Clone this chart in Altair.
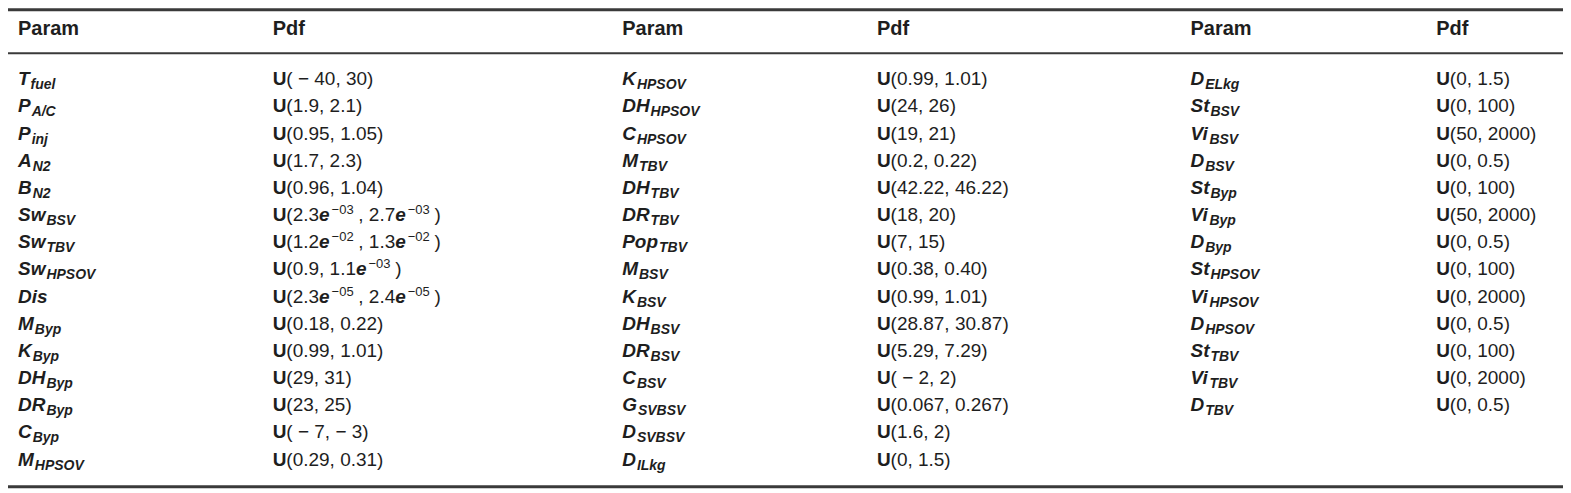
import re
import altair as alt
import pandas as pd

header_param = "Param"
header_pdf = "Pdf"

params_1 = ["T_fuel", "P_A/C", "P_inj", "A_N2", "B_N2", "Sw_BSV", "Sw_TBV", "Sw_HPSOV",
            "Dis", "M_Byp", "K_Byp", "DH_Byp", "DR_Byp", "C_Byp", "M_HPSOV"]
pdfs_1 = ["U(−40, 30)", "U(1.9, 2.1)", "U(0.95, 1.05)", "U(1.7, 2.3)", "U(0.96, 1.04)",
          "U(2.3e^−03, 2.7e^−03)", "U(1.2e^−02, 1.3e^−02)", "U(0.9, 1.1e^−03)",
          "U(2.3e^−05, 2.4e^−05)", "U(0.18, 0.22)", "U(0.99, 1.01)", "U(29, 31)",
          "U(23, 25)", "U(−7, −3)", "U(0.29, 0.31)"]

params_2 = ["K_HPSOV", "DH_HPSOV", "C_HPSOV", "M_TBV", "DH_TBV", "DR_TBV", "Pop_TBV",
            "M_BSV", "K_BSV", "DH_BSV", "DR_BSV", "C_BSV", "G_SVBSV", "D_SVBSV", "D_ILkg"]
pdfs_2 = ["U(0.99, 1.01)", "U(24, 26)", "U(19, 21)", "U(0.2, 0.22)", "U(42.22, 46.22)",
          "U(18, 20)", "U(7, 15)", "U(0.38, 0.40)", "U(0.99, 1.01)", "U(28.87, 30.87)",
          "U(5.29, 7.29)", "U(−2, 2)", "U(0.067, 0.267)", "U(1.6, 2)", "U(0, 1.5)"]

params_3 = ["D_ELkg", "St_BSV", "Vi_BSV", "D_BSV", "St_Byp", "Vi_Byp", "D_Byp",
            "St_HPSOV", "Vi_HPSOV", "D_HPSOV", "St_TBV", "Vi_TBV", "D_TBV"]
pdfs_3 = ["U(0, 1.5)", "U(0, 100)", "U(50, 2000)", "U(0, 0.5)", "U(0, 100)", "U(50, 2000)",
          "U(0, 0.5)", "U(0, 100)", "U(0, 2000)", "U(0, 0.5)", "U(0, 100)", "U(0, 2000)",
          "U(0, 0.5)"]

# ---------------- layout ----------------
W, H = 1557, 485
PARAM_X = [10, 615, 1184]
PDF_X = [265, 870, 1430]
Y0, DY = 77.0, 27.2          # chart-y of first baseline, row pitch
def row_of(page_y):
    return (page_y - 8 - Y0) / DY
HEADER_ROW = row_of(35)
RULES = [(row_of(9.5), 3.0), (row_of(53), 2.0), (row_of(487), 3.0)]

FONT = "Liberation Sans"
INK = "#1e1e1e"
BASE, SUB, SUP, HEAD = 19, 14, 14, 20

REG_W = {**{d: 0.556 for d in "0123456789"}, ".": 0.278, ",": 0.278, " ": 0.278,
         "(": 0.333, ")": 0.333, "−": 0.584, "-": 0.333}
BOLD_W = {"T": 0.611, "P": 0.667, "A": 0.722, "B": 0.722, "S": 0.667, "w": 0.778,
          "D": 0.722, "i": 0.278, "s": 0.556, "M": 0.833, "K": 0.722, "H": 0.722,
          "R": 0.722, "C": 0.722, "o": 0.611, "p": 0.611, "G": 0.778, "t": 0.333,
          "V": 0.667, "U": 0.722, "e": 0.556}

def tw(s, table, size):
    return sum(table.get(c, 0.556) for c in s) * size

def math_space(s):
    # binary-minus spacing as typeset in the reference: "( − 40", ", − 3"
    return s.replace("(−", "( − ").replace(", −", ", − ")

segs = []
def add(text, x, row, style):
    segs.append({"text": text, "x": x, "row": row, "style": style})

for g, (plist, dlist) in enumerate([(params_1, pdfs_1), (params_2, pdfs_2), (params_3, pdfs_3)]):
    add(header_param, PARAM_X[g], HEADER_ROW, "head")
    add(header_pdf, PDF_X[g], HEADER_ROW, "head")
    for i, (p, d) in enumerate(zip(plist, dlist)):
        main, _, sub = p.partition("_")
        add(main, PARAM_X[g], i, "bi")
        if sub:
            add(sub, PARAM_X[g] + tw(main, BOLD_W, BASE) + 1, i, "sub")
        x = PDF_X[g]
        add("U", x, i, "bold")
        x += tw("U", BOLD_W, BASE)
        for tok in re.split(r"(e\^[−-]?\d+)", d[1:]):
            if not tok:
                continue
            if tok.startswith("e^"):
                add("e", x, i, "bi")
                x += tw("e", BOLD_W, BASE) + 2
                add(tok[2:], x, i, "sup")
                x += tw(tok[2:], REG_W, SUP) + 3
            else:
                tok = math_space(tok)
                add(tok, x, i, "reg")
                x += tw(tok, REG_W, BASE)

seg_df = pd.DataFrame(segs)
rule_df = pd.DataFrame({"row": [r for r, _ in RULES], "sw": [s for _, s in RULES]})

xscale = alt.Scale(domain=[0, W], range=[0, W], nice=False, zero=False)
yscale = alt.Scale(domain=[-Y0 / DY, (H - Y0) / DY], range=[0, H], nice=False, zero=False)

def text_layer(style, size, weight="normal", fstyle="normal", dy=0):
    return alt.Chart(seg_df).transform_filter(alt.datum.style == style).mark_text(
        align="left", baseline="alphabetic", font=FONT, fontSize=size,
        fontWeight=weight, fontStyle=fstyle, color=INK, dy=dy
    ).encode(
        x=alt.X("x:Q", scale=xscale, axis=None),
        y=alt.Y("row:Q", scale=yscale, axis=None),
        text="text:N",
    )

rules = alt.Chart(rule_df).mark_rule(color="#3a3a3a").encode(
    x=alt.value(0), x2=alt.value(W),
    y=alt.Y("row:Q", scale=yscale, axis=None),
    strokeWidth=alt.StrokeWidth("sw:Q", scale=None, legend=None),
)

chart = alt.layer(
    rules,
    text_layer("head", HEAD, weight="bold"),
    text_layer("bold", BASE, weight="bold"),
    text_layer("reg", BASE),
    text_layer("bi", BASE, weight="bold", fstyle="italic"),
    text_layer("sub", SUB, weight="bold", fstyle="italic", dy=4),
    text_layer("sup", SUP - 1, dy=-7),
).properties(
    width=W, height=H, padding=0,
    autosize=alt.AutoSizeParams(type="none"),
).configure_view(stroke=None)

chart.save("out.html", embed_options={"renderer": "svg", "actions": False})
